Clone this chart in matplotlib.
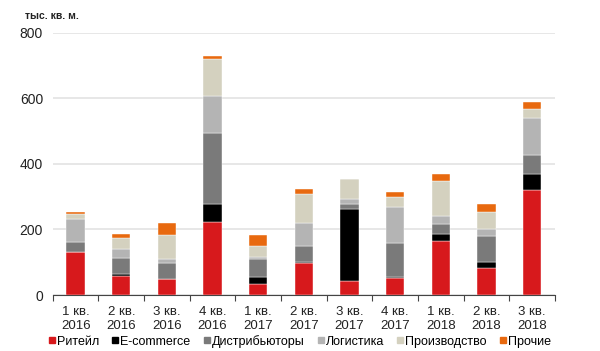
import numpy as np
import matplotlib
matplotlib.use("Agg")
from matplotlib import pyplot as plt
from matplotlib.lines import Line2D

plt.rcParams['font.family'] = ['Liberation Sans', 'DejaVu Sans']

quarters = ["1 кв.\n2016", "2 кв.\n2016", "3 кв.\n2016", "4 кв.\n2016",
            "1 кв.\n2017", "2 кв.\n2017", "3 кв.\n2017", "4 кв.\n2017",
            "1 кв.\n2018", "2 кв.\n2018", "3 кв.\n2018"]
series_names = ["Ритейл", "E-commerce", "Дистрибьюторы", "Логистика", "Производство", "Прочие"]
retail = [130, 58, 49, 222, 35, 97, 44, 51, 165, 82, 320]
ecommerce = [0, 5, 0, 55, 21, 3, 218, 5, 21, 18, 48]
distrib = [33, 51, 50, 218, 54, 50, 15, 102, 32, 80, 60]
logistics = [70, 27, 11, 112, 6, 69, 17, 111, 24, 21, 111]
production = [14, 34, 73, 114, 34, 89, 61, 31, 107, 52, 28]
other = [5, 10, 37, 9, 32, 16, 0, 15, 19, 24, 21]
colors = ["#d7191c", "#000000", "#7a7a7a", "#b4b4b4", "#d4d1bf", "#e8690f"]

data = [retail, ecommerce, distrib, logistics, production, other]

fig = plt.figure(figsize=(6, 3.51), dpi=100)
ax = fig.add_axes([0.088, 0.1595, 0.837, 0.7473])
x = np.arange(len(quarters))
bottom = np.zeros(len(quarters))
for vals, c, name in zip(data, colors, series_names):
    ax.bar(x, vals, width=0.4, bottom=bottom, color=c, label=name, zorder=3,
           edgecolor="white", linewidth=0.3)
    bottom += np.array(vals)

ax.set_xlim(-0.5, len(quarters) - 0.5)
ax.set_ylim(0, 800)
ax.set_yticks([0, 200, 400, 600, 800])
ax.yaxis.grid(True, color="#e3e3e3", linewidth=1.2, zorder=0)
ax.tick_params(axis="y", length=0, labelsize=10, colors="#222222", pad=7)
ax.set_xticks(x)
ax.set_xticklabels(quarters, fontsize=9.5, color="#222222")
ax.tick_params(axis="x", length=0, pad=8)
ax.set_xticks(np.arange(-0.5, len(quarters)), minor=True)
ax.tick_params(axis="x", which="minor", length=4, color="#444444", width=0.8)
for s in ["top", "right", "left"]:
    ax.spines[s].set_visible(False)
ax.spines["bottom"].set_color("#444444")
ax.spines["bottom"].set_linewidth(0.8)

fig.text(0.042, 0.945, "тыс. кв. м.", fontsize=7.5, fontweight="bold", color="#222222")

handles = [Line2D([], [], marker="s", linestyle="none", markersize=4,
                  markerfacecolor=c, markeredgecolor=c) for c in colors]
fig.legend(handles, series_names, loc="center", bbox_to_anchor=(0.5, 0.028),
           ncol=6, frameon=False, fontsize=9, handlelength=0.5, handletextpad=0.15,
           columnspacing=1.05)

fig.savefig("out.png", dpi=100)
